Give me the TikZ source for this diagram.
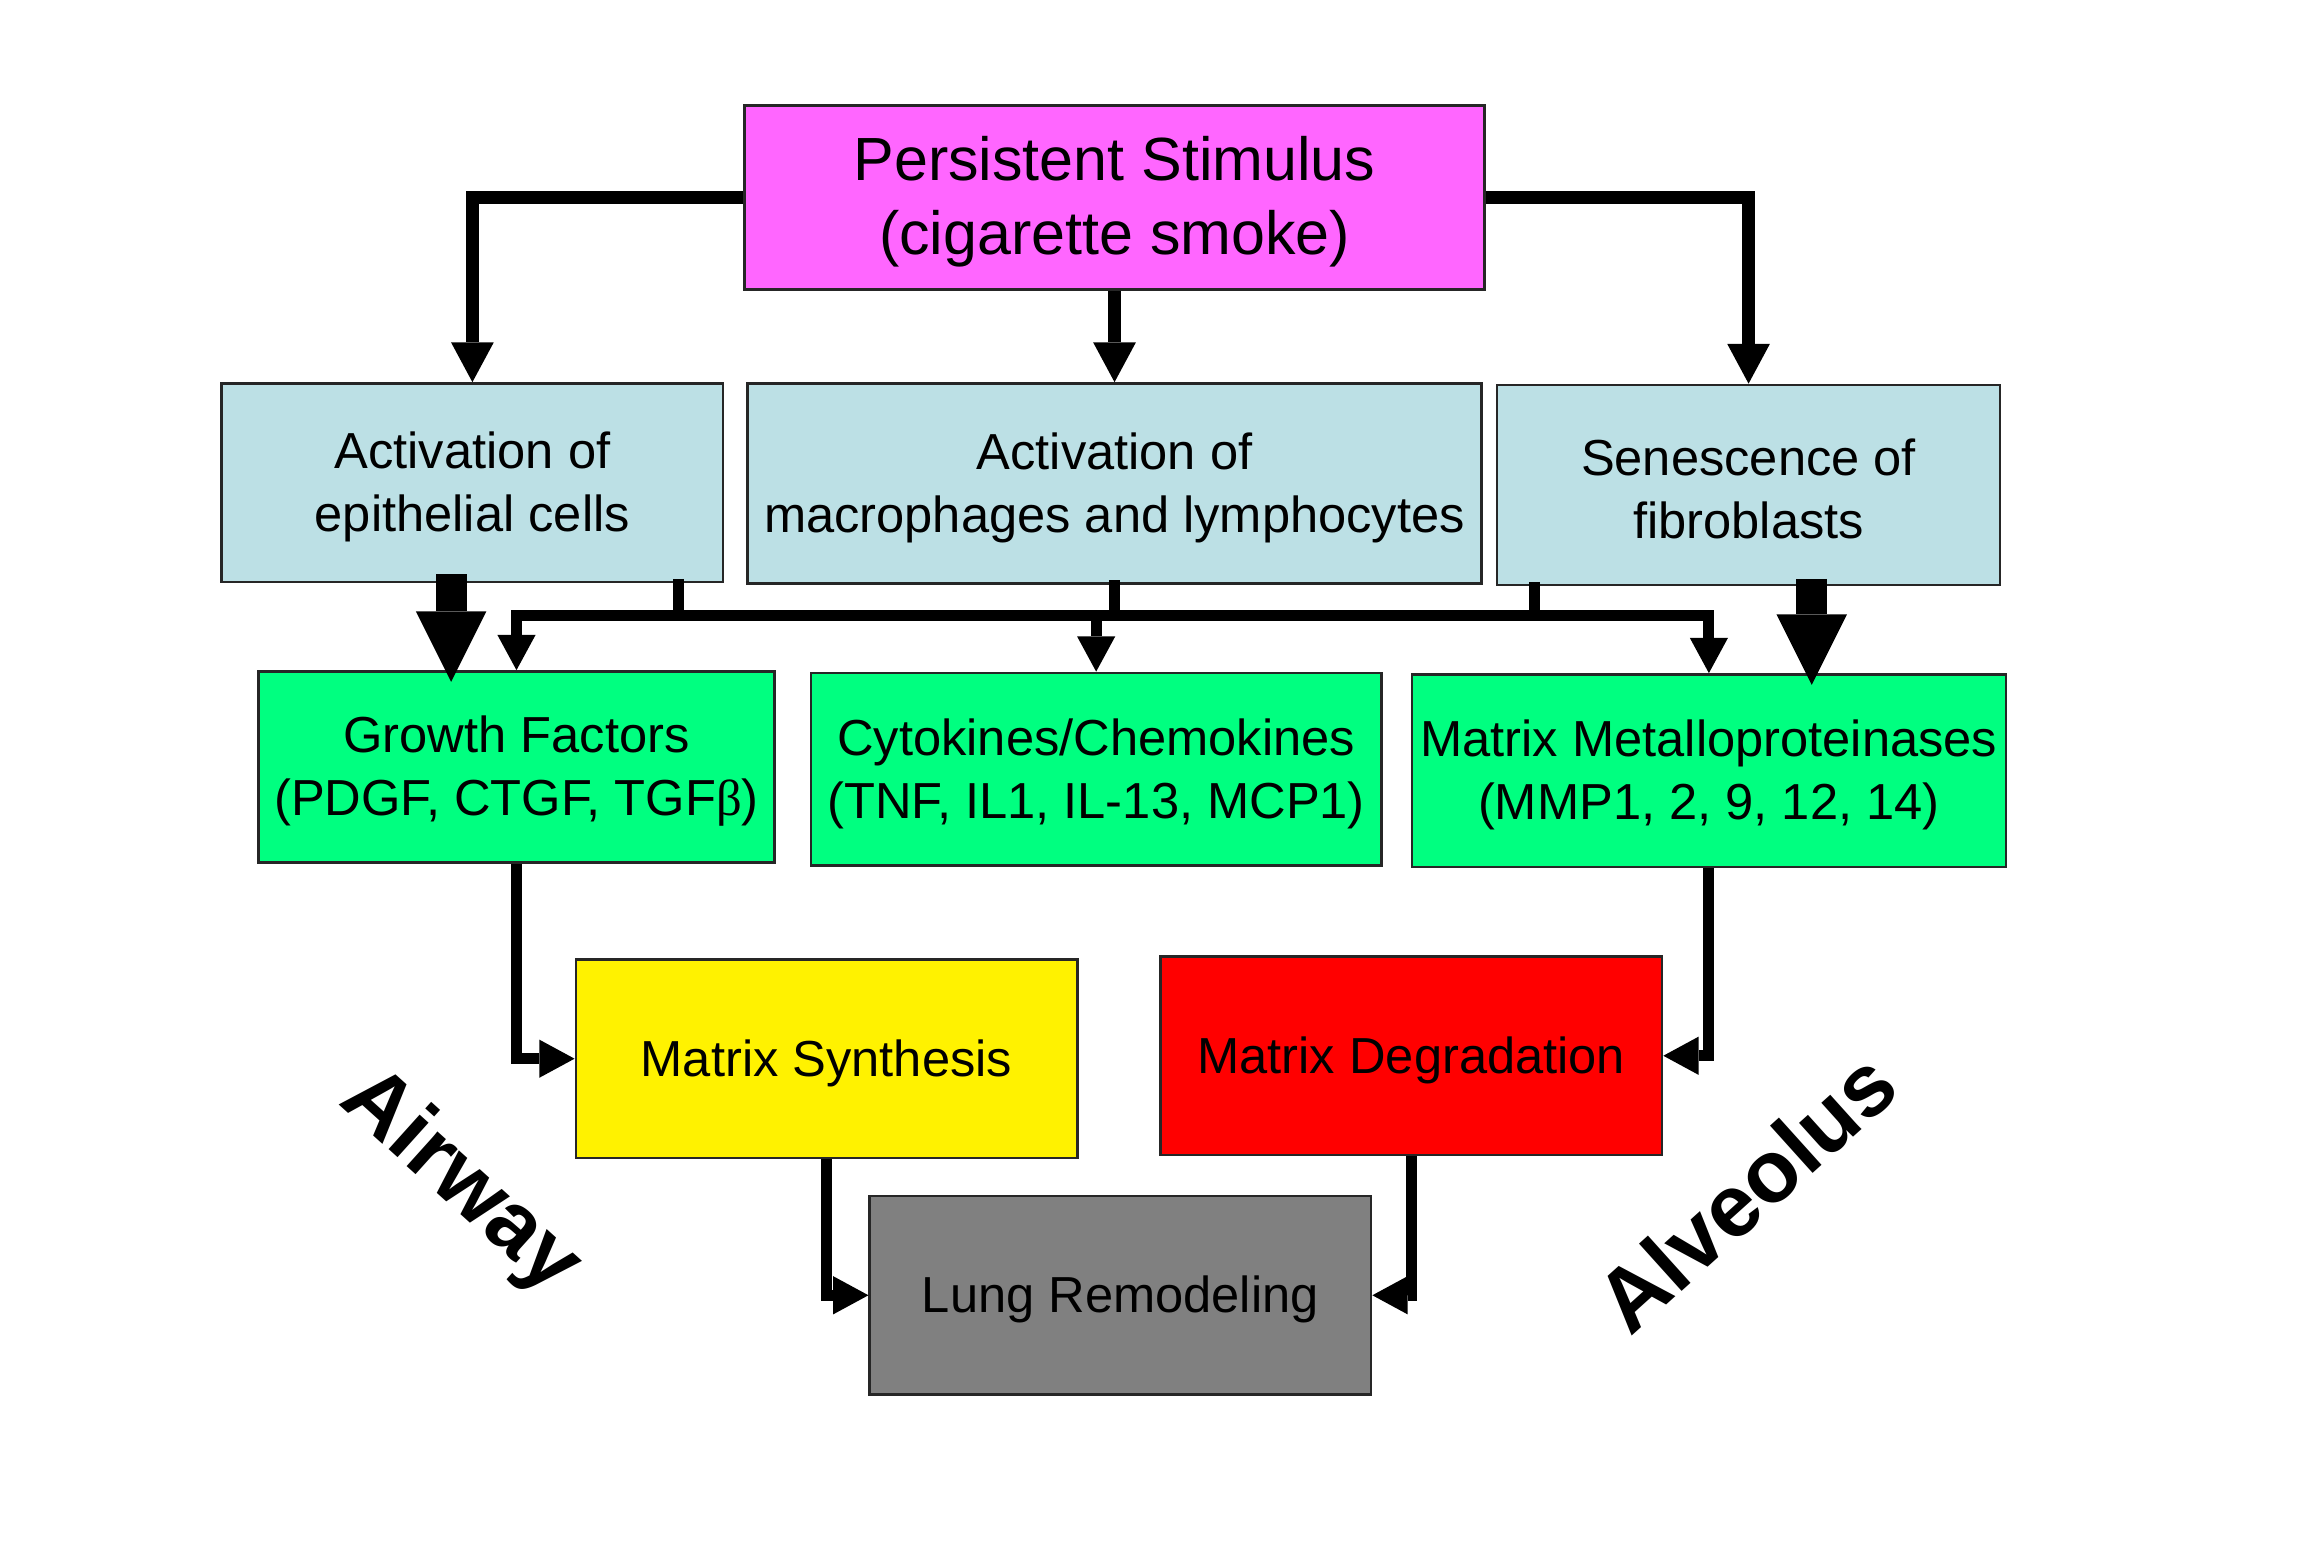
\documentclass[tikz,border=0pt]{standalone}
\usepackage{fontspec}
\setmainfont{Liberation Sans}
\newfontfamily\greekfont{Liberation Serif}
\usetikzlibrary{arrows.meta,calc}
\definecolor{stimcol}{HTML}{FF66FF}
\definecolor{actcol}{HTML}{BCE0E5}
\definecolor{medcol}{HTML}{00FF80}
\definecolor{lungcol}{HTML}{808080}
% a little extra room above the first line
\newcommand{\lift}{\rule{0pt}{\dimexpr\fontcharht\font`l+2pt\relax}}

\begin{document}
\begin{tikzpicture}[x=0.01cm,y=-0.01cm,
  box/.style={draw=black!85,line width=0.5pt,align=center,inner sep=0pt,
    font=\fontsize{9.8}{12.2}\selectfont},
  link/.style={line width=0.075cm,line join=miter},
  arr/.style={link,-{Triangle[width=0.26cm,length=0.24cm,line width=0pt]}},
  toparr/.style={line width=0.085cm,line join=miter,
    -{Triangle[width=0.29cm,length=0.27cm,line width=0pt]}},
  fat/.style={line width=0.21cm,-{Triangle[width=0.48cm,length=0.48cm,line width=0pt]}},
  side/.style={font=\fontsize{17}{20}\selectfont\bfseries}]

  \useasboundingbox (0,0) rectangle (1568,1051);

  % boxes
  \node[box,fill=stimcol,minimum width=5.03cm,minimum height=1.25cm,
    font=\fontsize{11.8}{14.2}\selectfont] (stim) at (758.5,134.5)
    {\lift Persistent Stimulus\\(cigarette smoke)};

  \node[box,fill=actcol,minimum width=3.41cm,minimum height=1.35cm] (epi) at (321.5,328.5)
    {\lift Activation of\\epithelial cells};
  \node[box,fill=actcol,minimum width=4.99cm,minimum height=1.36cm] (mac) at (758.5,329)
    {\lift Activation of\\macrophages and lymphocytes};
  \node[box,fill=actcol,minimum width=3.42cm,minimum height=1.36cm] (fib) at (1190,330)
    {\lift Senescence of\\fibroblasts};

  \node[box,fill=medcol,minimum width=3.51cm,minimum height=1.30cm] (gf) at (351.5,522)
    {\lift Growth Factors\\(PDGF, CTGF, TGF{\greekfont β})};
  \node[box,fill=medcol,minimum width=3.88cm,minimum height=1.31cm] (cyt) at (746,523.5)
    {\lift Cytokines/Chemokines\\(TNF, IL1, IL-13, MCP1)};
  \node[box,fill=medcol,minimum width=4.04cm,minimum height=1.31cm] (mmp) at (1163,524.5)
    {\lift Matrix Metalloproteinases\\(MMP1, 2, 9, 12, 14)};

  \node[box,fill=yellow,minimum width=3.41cm,minimum height=1.35cm] (syn) at (562.5,720.5)
    {\lift Matrix Synthesis};
  \node[box,fill=red,minimum width=3.41cm,minimum height=1.35cm] (deg) at (960.5,718.5)
    {\lift Matrix Degradation};
  \node[box,fill=lungcol,minimum width=3.41cm,minimum height=1.35cm] (lung) at (762.5,881.5)
    {\lift Lung Remodeling};

  \node[side,rotate=-42] (airway) at (313,805) {Airway};
  \node[side,rotate=42] (alveolus) at (1188,811) {Alveolus};

  % stimulus
  \draw[toparr] (stim.west) -| (epi.north);
  \draw[toparr] (stim.east) -| (fib.north);
  \draw[toparr] (stim.south) -- (mac.north);

  % mediators
  \coordinate (bus) at (0,419);
  \coordinate (d1) at ($(epi.south)+(140.5,-3)$);
  \coordinate (d3) at ($(fib.south)+(-146,-3)$);
  \draw[link] (d1 |- bus) -- (d3 |- bus);
  \draw[link] ($(mac.south)+(0,-3)$) -- (mac.south |- bus);
  \draw[arr] (d1) |- (bus -| gf.north) -- (gf.north);
  \draw[arr] (d3) |- (bus -| mmp.north) -- (mmp.north);
  \draw[arr] (cyt.north |- bus) -- (cyt.north);
  \draw[fat] ($(epi.south)+(-14.5,-6)$) -- ($(epi.south |- gf.north)+(-14.5,8)$);
  \draw[fat] ($(fib.south)+(43,-5)$) -- ($(fib.south |- mmp.north)+(43,8)$);

  % remodeling
  \draw[arr] (gf.south) |- (syn.west);
  \draw[arr] (syn.south) |- (lung.west);
  \draw[arr] (mmp.south) |- (deg.east);
  \draw[arr] (deg.south) |- (lung.east);
\end{tikzpicture}
\end{document}
